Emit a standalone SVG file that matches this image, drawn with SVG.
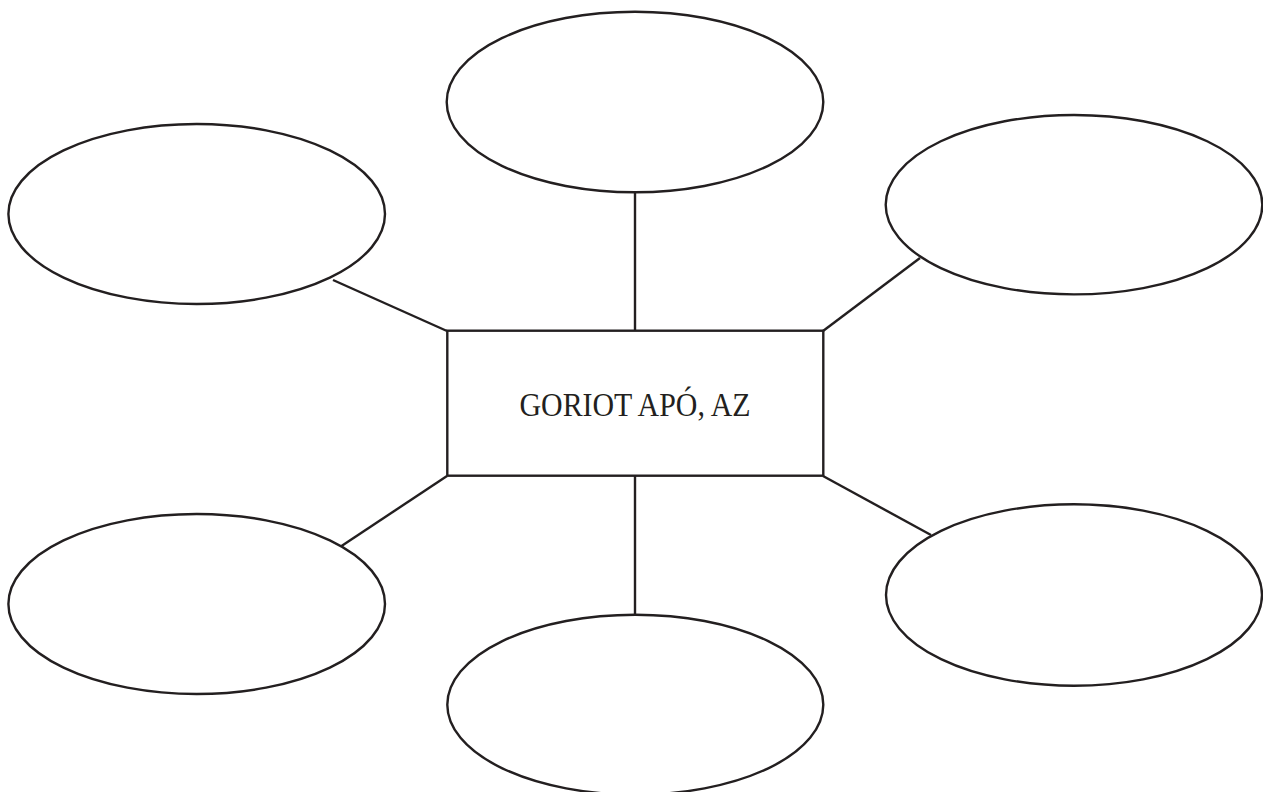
<svg xmlns="http://www.w3.org/2000/svg" width="1263" height="792" viewBox="0 0 1263 792">
<style>
.shape{fill:#fff;stroke:#231f20;stroke-width:2.4}
.conn line{stroke:#231f20;stroke-width:2.4}
.label{font-family:"Liberation Serif","Times New Roman",serif;font-size:33px;fill:#231f20}
</style>
<rect width="1263" height="792" fill="#fff"/>
<g id="connectors" class="conn">
<line x1="635" y1="192" x2="635" y2="331"/>
<line x1="333" y1="280" x2="447" y2="331"/>
<line x1="920" y1="258" x2="823" y2="331"/>
<line x1="447" y1="476" x2="340" y2="547"/>
<line x1="635" y1="476" x2="635" y2="615"/>
<line x1="823" y1="476" x2="931" y2="535"/>
</g>
<g id="center">
<rect class="shape" x="447.3" y="330.7" width="376" height="145"/>
<text class="label" x="635" y="415.5" text-anchor="middle" textLength="231" lengthAdjust="spacingAndGlyphs">GORIOT APÓ, AZ</text>
</g>
<g id="node-top"><ellipse class="shape" cx="635" cy="102" rx="188.3" ry="90.3"/></g>
<g id="node-top-left"><ellipse class="shape" cx="196.7" cy="214" rx="188.3" ry="90"/></g>
<g id="node-top-right"><ellipse class="shape" cx="1074" cy="204.7" rx="188.3" ry="89.7"/></g>
<g id="node-bottom-left"><ellipse class="shape" cx="196.7" cy="604" rx="188.3" ry="90"/></g>
<g id="node-bottom-right"><ellipse class="shape" cx="1074" cy="595" rx="188" ry="90.7"/></g>
<g id="node-bottom"><ellipse class="shape" cx="635.3" cy="704.7" rx="188" ry="90"/></g>
</svg>
